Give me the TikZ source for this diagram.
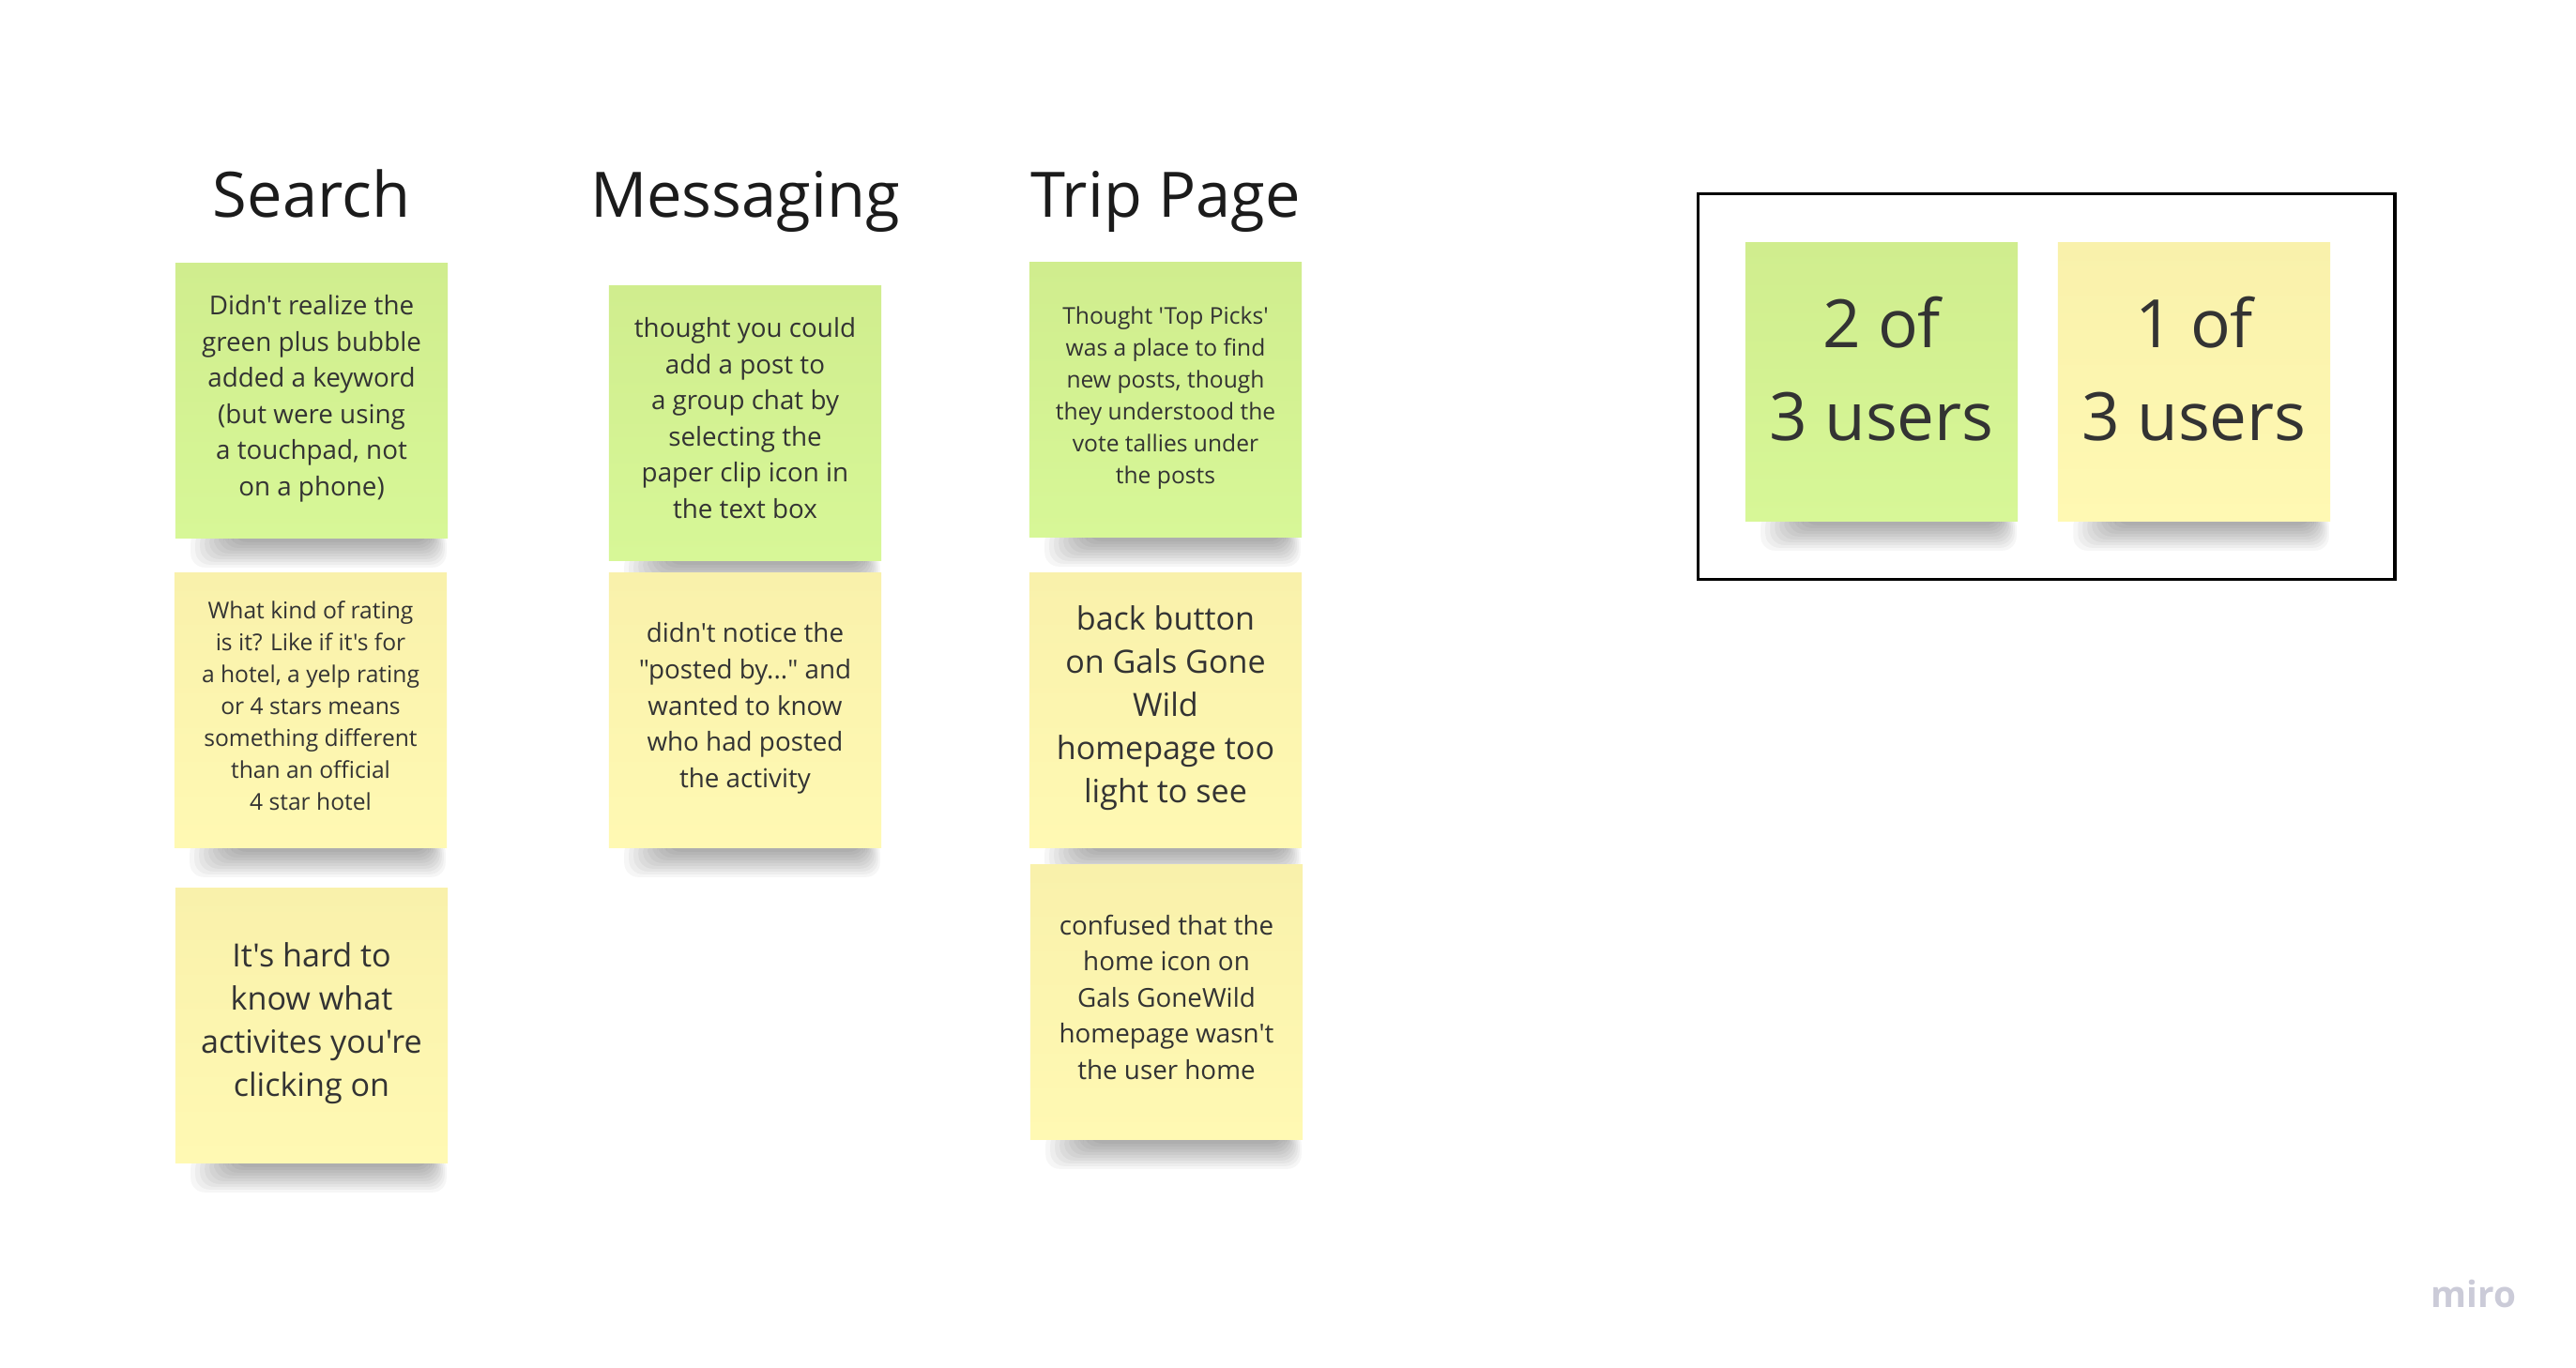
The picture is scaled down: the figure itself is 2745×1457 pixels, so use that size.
\documentclass[tikz,border=0pt]{standalone}
\usepackage{fontspec}
\setmainfont{Open Sans}[Ligatures=TeXOff]
\usepackage{xcolor}
\usepackage{tikz}
\usetikzlibrary{backgrounds}

\definecolor{notegreen}{HTML}{D7F797}
\definecolor{notegreentop}{HTML}{D0ED8E}
\definecolor{noteyellow}{HTML}{FFF9B3}
\definecolor{noteyellowtop}{HTML}{F9F1AB}
\definecolor{inktext}{HTML}{333333}
\definecolor{inkhead}{HTML}{1B1B1B}
\definecolor{mirogray}{HTML}{CBCBD8}

\tikzset{
  note/.style={inner sep=0pt, minimum width=2.9cm, minimum height=2.92cm, align=center, text=inktext,
    execute at begin node={\rule{0pt}{0.8em}}, execute at end node={\rule[-0.4em]{0pt}{0pt}}},
  greennote/.style={note, top color=notegreentop, bottom color=notegreen},
  yellownote/.style={note, top color=noteyellowtop, bottom color=noteyellow},
  txtsmall/.style={font=\fontsize{7}{9.7}\selectfont},
  txtmid/.style={font=\fontsize{7.9}{10.95}\selectfont},
  txtbig/.style={font=\fontsize{9.7}{13.1}\selectfont},
  txtcount/.style={font=\fontsize{20.2}{27.9}\selectfont},
  heading/.style={anchor=base, text=inkhead, font=\fontsize{19}{22}\selectfont}
}

\begin{document}
\begin{tikzpicture}[x=0.01cm, y=-0.01cm]
			\useasboundingbox (0,0) rectangle (2745,1457);
			% headings
			\node[heading] (searchhead) at (332,231) {Search};
			\node[heading] (msghead) at (794,231) {Messaging};
			\node[heading] (triphead) at (1242,231) {Trip Page};
			% Search
			\node[greennote, txtmid] (s1) at (332,427) {Didn't realize the\\green plus bubble\\added a keyword\\(but were using\\a touchpad, not\\on a phone)};
			\node[yellownote, txtsmall] (s2) at (331,757) {What kind of rating\\is it? Like if it's for\\a hotel, a yelp rating\\or 4 stars means\\something different\\than an official\\4 star hotel};
			\node[yellownote, txtbig] (s3) at (332,1093) {It's hard to\\know what\\activites you're\\clicking on};
			% Messaging
			\node[greennote, txtmid] (m1) at (794,451) {thought you could\\add a post to\\a group chat by\\selecting the\\paper clip icon in\\the text box};
			\node[yellownote, txtmid] (m2) at (794,757) {didn't notice the\\"posted by..." and\\wanted to know\\who had posted\\the activity};
			% Trip Page
			\node[greennote, txtsmall] (t1) at (1242,426) {Thought 'Top Picks'\\was a place to find\\new posts, though\\they understood the\\vote tallies under\\the posts};
			\node[yellownote, txtbig] (t2) at (1242,757) {back button\\on Gals Gone\\Wild\\homepage too\\light to see};
			\node[yellownote, txtmid] (t3) at (1243,1068) {confused that the\\home icon on\\Gals GoneWild\\homepage wasn't\\the user home};
			% legend
			\node[draw, line width=1pt, minimum width=7.42cm, minimum height=4.11cm] (legend) at (2180.5,412) {};
			\node[greennote, txtcount, minimum height=2.96cm] (c2) at (2005,407) {2 of\\3 users};
			\node[yellownote, txtcount, minimum height=2.96cm] (c1) at (2338,407) {1 of\\3 users};
			\node[text=mirogray, font=\fontsize{11}{11}\selectfont\bfseries] (logo) at (2636,1379) {miro};
			% shadows
			\begin{scope}[on background layer]
				\fill[white] (0,0) rectangle (2745,1457);
				\foreach \n in {s1,s2,s3,m1,m2,t1,t2,t3,c2,c1}
				\foreach \k in {1,...,10}
				\fill[black, opacity=0.035, rounded corners=0.15cm]
				([xshift={0.12cm+\k*0.05cm}, yshift=0.1cm]\n.south west) rectangle ([xshift={-\k*0.02cm}, yshift={-0.34cm+\k*0.03cm}]\n.south east);
			\end{scope}
		\end{tikzpicture}
\end{document}
